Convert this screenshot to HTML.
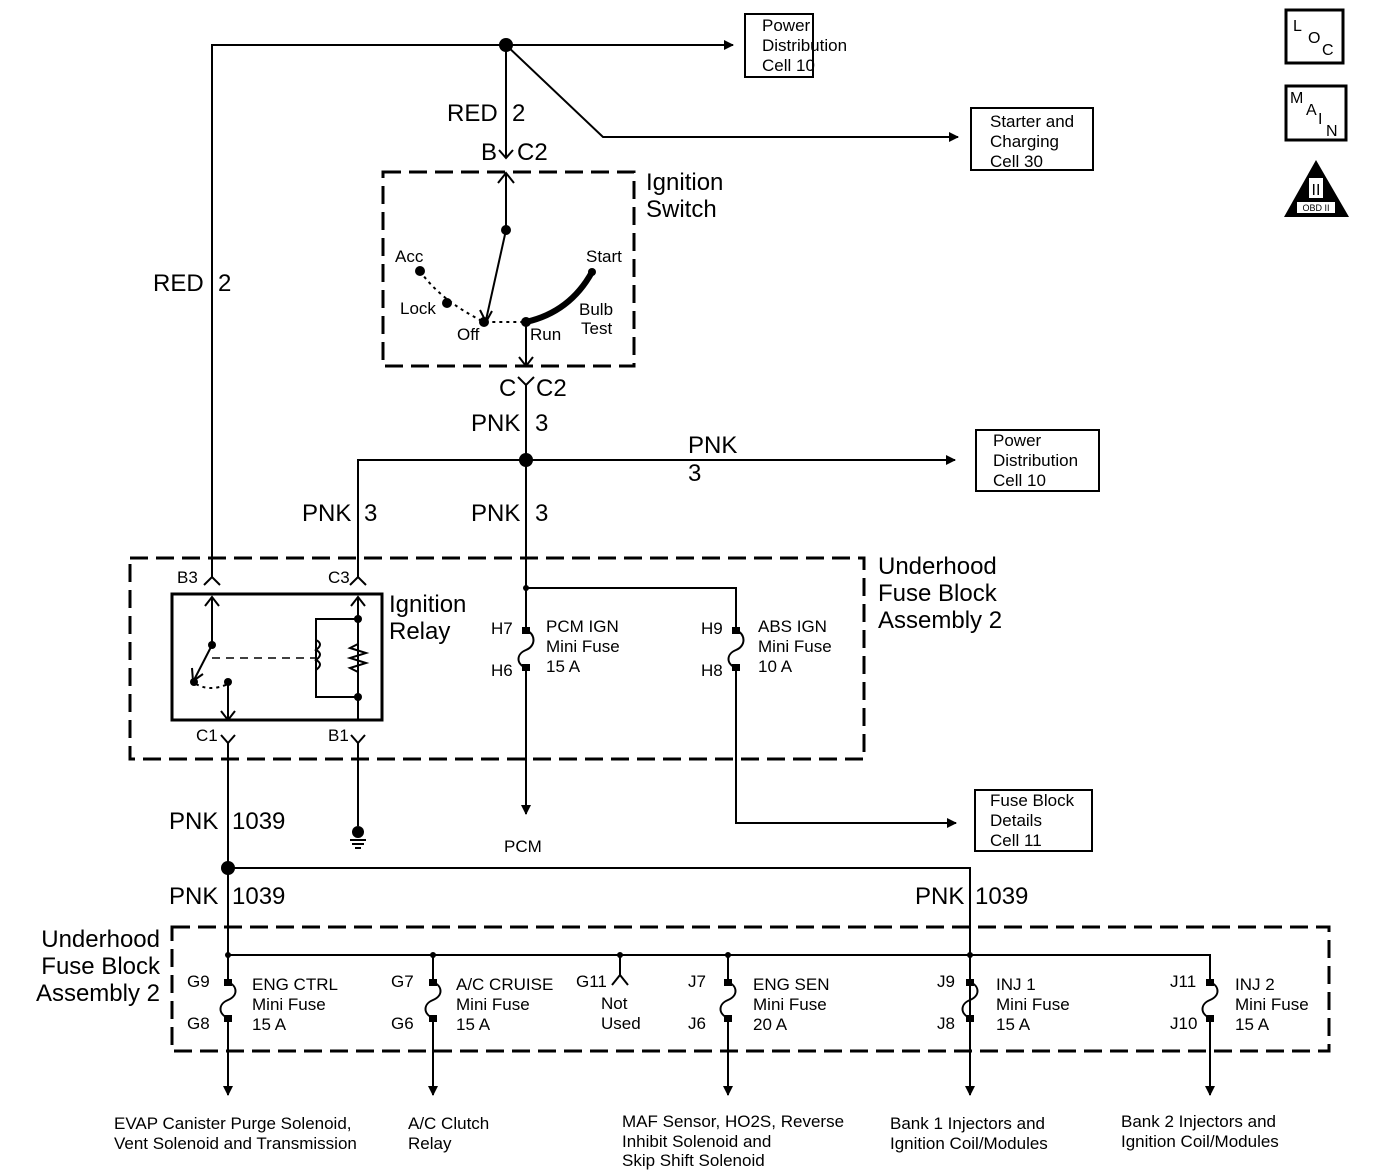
<!DOCTYPE html>
<html><head><meta charset="utf-8"><style>
html,body{margin:0;padding:0;background:#fff}
svg{display:block}
text{font-family:"Liberation Sans",Arial,sans-serif;fill:#000}
.b{font-size:24px}
.t{font-size:17px}
</style></head><body>
<svg width="1376" height="1174" viewBox="0 0 1376 1174" xmlns="http://www.w3.org/2000/svg">
<defs>
<marker id="a" markerWidth="10" markerHeight="10" refX="9" refY="5" orient="auto" markerUnits="userSpaceOnUse">
<path d="M0,0 L10,5 L0,10 z" fill="#000"/></marker>
</defs>
<g stroke="#000" stroke-width="2" fill="none">
<path d="M212,577 V45 H733" marker-end="url(#a)"/>
<path d="M506,45 L603,137 H958" marker-end="url(#a)"/>
<path d="M506,45 V158"/>
<path d="M499,150 L506,158 L513,150"/>
<path d="M506,173 V230 M498,183 L506,173 L514,183"/>
<rect x="383" y="172" width="251" height="194" stroke-dasharray="18,8" stroke-width="3"/>
<path d="M506,230 L486,320"/>
<path d="M480,310 L486,322 L492,311"/>
<path d="M420,271 Q440,300 484,322 L526,322" stroke-dasharray="3,4"/>
<path d="M526,322 Q570,312 592,272" stroke-width="6"/>
<path d="M526,322 V366"/>
<path d="M519,357 L526,366 L533,357"/>
<path d="M518,377 L526,385 L534,377 M526,385 V460"/>
<path d="M358,578 V460 H955" marker-end="url(#a)"/>
<path d="M526,460 V630"/>
<path d="M526,588 H736 V630"/>
<rect x="130" y="558" width="734" height="201" stroke-dasharray="18,8" stroke-width="3"/>
<path d="M204,585 L212,577 L220,585 M350,585 L358,577 L366,585"/>
<rect x="172" y="594" width="210" height="126" stroke-width="3"/>
<path d="M212,642 V597 M205,606 L212,597 L219,606"/>
<path d="M212,645 L194,680"/>
<path d="M192,668 L193,681 L203,674"/>
<path d="M196,684 Q210,692 228,684" stroke-dasharray="3,4"/>
<path d="M228,682 V720 M221,711 L228,720 L235,711"/>
<path d="M212,658 H315" stroke-dasharray="8,6" stroke-width="1.5"/>
<path d="M358,720 V597 M351,606 L358,597 L365,606"/>
<path d="M358,619 H316 V697 H358"/>
<path d="M316,640 q8,4 0,10 q8,4 0,10 q8,4 0,10"/>
<path d="M358,644 L350,648 L366,653 L350,658 L366,663 L350,668 L358,672"/>
<path d="M221,735 L228,743 L235,735 M228,743 V868"/>
<path d="M351,735 L358,743 L365,735 M358,743 V826"/>
<path d="M350,840 H366 M352,844 H364 M355,848 H361"/>
<path d="M526,630 C536,634 536,646 526,650 C516,654 516,664 526,668 V814" marker-end="url(#a)"/>
<path d="M736,630 C746,634 746,646 736,650 C726,654 726,664 736,668 V823 H956" marker-end="url(#a)"/>
<path d="M228,868 H970 V1095" marker-end="url(#a)"/>
<path d="M228,868 V982"/>
<rect x="172" y="927" width="1157" height="124" stroke-dasharray="18,8" stroke-width="3"/>
<path d="M228,955 H1210 V982"/>
<path d="M433,955 V982 M728,955 V982 M620,955 V975 M612,985 L620,975 L628,985"/>
<path d="M228,982 C238,986 238,996 228,1000 C218,1004 218,1014 228,1018 V1095" marker-end="url(#a)"/>
<path d="M433,982 C443,986 443,996 433,1000 C423,1004 423,1014 433,1018 V1095" marker-end="url(#a)"/>
<path d="M728,982 C738,986 738,996 728,1000 C718,1004 718,1014 728,1018 V1095" marker-end="url(#a)"/>
<path d="M970,982 C980,986 980,996 970,1000 C960,1004 960,1014 970,1018"/>
<path d="M1210,982 C1220,986 1220,996 1210,1000 C1200,1004 1200,1014 1210,1018 V1095" marker-end="url(#a)"/>
<rect x="745" y="14" width="68" height="63"/>
<rect x="971" y="108" width="122" height="62"/>
<rect x="976" y="430" width="123" height="61"/>
<rect x="975" y="790" width="117" height="61"/>
<rect x="1286" y="10" width="57" height="53" stroke-width="3"/>
<rect x="1286" y="86" width="60" height="54" stroke-width="3"/>
</g>
<g fill="#000">
<circle cx="506" cy="45" r="7"/><circle cx="526" cy="460" r="7"/><circle cx="228" cy="868" r="7"/>
<circle cx="506" cy="230" r="5"/><circle cx="420" cy="271" r="5"/><circle cx="447" cy="303" r="5"/>
<circle cx="484" cy="322" r="5"/><circle cx="526" cy="322" r="5"/><circle cx="592" cy="272" r="4"/>
<circle cx="212" cy="645" r="4"/><circle cx="194" cy="682" r="4"/><circle cx="228" cy="682" r="4"/>
<circle cx="358" cy="619" r="4"/><circle cx="358" cy="697" r="4"/>
<circle cx="358" cy="832" r="6"/>
<circle cx="526" cy="588" r="3"/>
<circle cx="228" cy="955" r="3"/><circle cx="433" cy="955" r="3"/><circle cx="620" cy="955" r="3"/><circle cx="728" cy="955" r="3"/><circle cx="970" cy="955" r="3"/>
<rect x="522" y="627" width="8" height="7"/><rect x="522" y="664" width="8" height="7"/>
<rect x="732" y="627" width="8" height="7"/><rect x="732" y="664" width="8" height="7"/>
<rect x="224" y="979" width="8" height="7"/><rect x="224" y="1015" width="8" height="7"/>
<rect x="429" y="979" width="8" height="7"/><rect x="429" y="1015" width="8" height="7"/>
<rect x="724" y="979" width="8" height="7"/><rect x="724" y="1015" width="8" height="7"/>
<rect x="966" y="979" width="8" height="7"/><rect x="966" y="1015" width="8" height="7"/>
<rect x="1206" y="979" width="8" height="7"/><rect x="1206" y="1015" width="8" height="7"/>
<polygon points="1316,160 1284,217 1349,217"/>
</g>
<rect x="1297" y="202" width="38" height="11" fill="#fff"/>
<rect x="1309" y="178" width="14" height="20" fill="#fff"/>
<text x="1316" y="211" style="font-size:9px" text-anchor="middle">OBD II</text>
<text x="1316" y="195" style="font-size:16px" text-anchor="middle">II</text>
<text x="1293" y="31" style="font-size:16px">L</text><text x="1308" y="43" style="font-size:16px">O</text><text x="1322" y="55" style="font-size:16px">C</text>
<text x="1290" y="103" style="font-size:16px">M</text><text x="1306" y="115" style="font-size:16px">A</text><text x="1318" y="124" style="font-size:16px">I</text><text x="1326" y="136" style="font-size:16px">N</text>
<text x="762" y="31" class="t">Power</text><text x="762" y="51" class="t">Distribution</text><text x="762" y="71" class="t">Cell 10</text>
<text x="990" y="127" class="t">Starter and</text><text x="990" y="147" class="t">Charging</text><text x="990" y="167" class="t">Cell 30</text>
<text x="993" y="446" class="t">Power</text><text x="993" y="466" class="t">Distribution</text><text x="993" y="486" class="t">Cell 10</text>
<text x="990" y="806" class="t">Fuse Block</text><text x="990" y="826" class="t">Details</text><text x="990" y="846" class="t">Cell 11</text>
<text x="447" y="121" class="b">RED</text><text x="512" y="121" class="b">2</text>
<text x="153" y="291" class="b">RED</text><text x="218" y="291" class="b">2</text>
<text x="481" y="160" class="b">B</text><text x="517" y="160" class="b">C2</text>
<text x="499" y="396" class="b">C</text><text x="536" y="396" class="b">C2</text>
<text x="471" y="431" class="b">PNK</text><text x="535" y="431" class="b">3</text>
<text x="688" y="453" class="b">PNK</text><text x="688" y="481" class="b">3</text>
<text x="302" y="521" class="b">PNK</text><text x="364" y="521" class="b">3</text>
<text x="471" y="521" class="b">PNK</text><text x="535" y="521" class="b">3</text>
<text x="646" y="190" class="b">Ignition</text><text x="646" y="217" class="b">Switch</text>
<text x="395" y="262" class="t">Acc</text><text x="400" y="314" class="t">Lock</text><text x="457" y="340" class="t">Off</text>
<text x="530" y="340" class="t">Run</text><text x="586" y="262" class="t">Start</text>
<text x="579" y="315" class="t">Bulb</text><text x="581" y="334" class="t">Test</text>
<text x="878" y="574" class="b">Underhood</text><text x="878" y="601" class="b">Fuse Block</text><text x="878" y="628" class="b">Assembly 2</text>
<text x="389" y="612" class="b">Ignition</text><text x="389" y="639" class="b">Relay</text>
<text x="177" y="583" class="t">B3</text><text x="328" y="583" class="t">C3</text>
<text x="196" y="741" class="t">C1</text><text x="328" y="741" class="t">B1</text>
<text x="491" y="634" class="t">H7</text><text x="491" y="676" class="t">H6</text>
<text x="546" y="632" class="t">PCM IGN</text><text x="546" y="652" class="t">Mini Fuse</text><text x="546" y="672" class="t">15 A</text>
<text x="701" y="634" class="t">H9</text><text x="701" y="676" class="t">H8</text>
<text x="758" y="632" class="t">ABS IGN</text><text x="758" y="652" class="t">Mini Fuse</text><text x="758" y="672" class="t">10 A</text>
<text x="504" y="852" class="t">PCM</text>
<text x="169" y="829" class="b">PNK</text><text x="232" y="829" class="b">1039</text>
<text x="169" y="904" class="b">PNK</text><text x="232" y="904" class="b">1039</text>
<text x="915" y="904" class="b">PNK</text><text x="975" y="904" class="b">1039</text>
<text x="160" y="947" class="b" text-anchor="end">Underhood</text><text x="160" y="974" class="b" text-anchor="end">Fuse Block</text><text x="160" y="1001" class="b" text-anchor="end">Assembly 2</text>
<text x="187" y="987" class="t">G9</text><text x="187" y="1029" class="t">G8</text>
<text x="252" y="990" class="t">ENG CTRL</text><text x="252" y="1010" class="t">Mini Fuse</text><text x="252" y="1030" class="t">15 A</text>
<text x="391" y="987" class="t">G7</text><text x="391" y="1029" class="t">G6</text>
<text x="456" y="990" class="t">A/C CRUISE</text><text x="456" y="1010" class="t">Mini Fuse</text><text x="456" y="1030" class="t">15 A</text>
<text x="576" y="987" class="t">G11</text><text x="601" y="1009" class="t">Not</text><text x="601" y="1029" class="t">Used</text>
<text x="688" y="987" class="t">J7</text><text x="688" y="1029" class="t">J6</text>
<text x="753" y="990" class="t">ENG SEN</text><text x="753" y="1010" class="t">Mini Fuse</text><text x="753" y="1030" class="t">20 A</text>
<text x="937" y="987" class="t">J9</text><text x="937" y="1029" class="t">J8</text>
<text x="996" y="990" class="t">INJ 1</text><text x="996" y="1010" class="t">Mini Fuse</text><text x="996" y="1030" class="t">15 A</text>
<text x="1170" y="987" class="t">J11</text><text x="1170" y="1029" class="t">J10</text>
<text x="1235" y="990" class="t">INJ 2</text><text x="1235" y="1010" class="t">Mini Fuse</text><text x="1235" y="1030" class="t">15 A</text>
<text x="114" y="1129" class="t">EVAP Canister Purge Solenoid,</text><text x="114" y="1149" class="t">Vent Solenoid and Transmission</text>
<text x="408" y="1129" class="t">A/C Clutch</text><text x="408" y="1149" class="t">Relay</text>
<text x="622" y="1127" class="t">MAF Sensor, HO2S, Reverse</text><text x="622" y="1147" class="t">Inhibit Solenoid and</text><text x="622" y="1166" class="t">Skip Shift Solenoid</text>
<text x="890" y="1129" class="t">Bank 1 Injectors and</text><text x="890" y="1149" class="t">Ignition Coil/Modules</text>
<text x="1121" y="1127" class="t">Bank 2 Injectors and</text><text x="1121" y="1147" class="t">Ignition Coil/Modules</text>
</svg>
</body></html>
